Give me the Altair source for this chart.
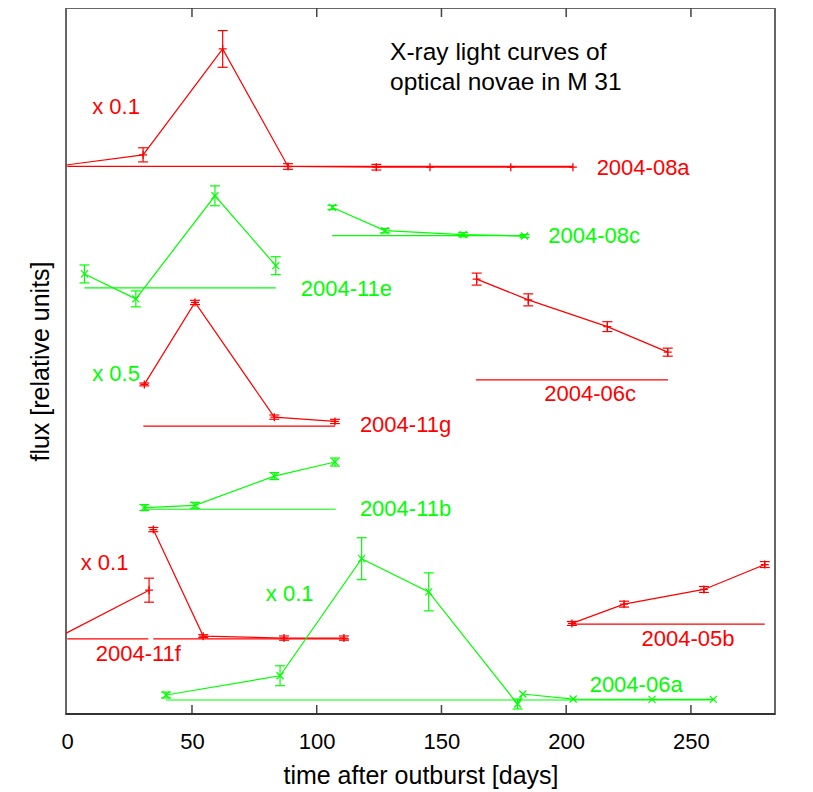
import altair as alt
import pandas as pd

RED = "#ff0000"
GREEN = "#00ff00"

# x = days after outburst, y = flux (relative units, curves offset), e = error
n08a_x = [-4, 30.4, 62.3, 88.5, 123.9, 145.4, 177.8, 202.7]
n08a_y = [77.6, 79.2, 94.2, 77.55, 77.45, 77.45, 77.45, 77.45]
n08a_e = [0, 1.0, 2.6, 0.4, 0.4, 0, 0, 0]

n08c_x = [106.3, 127.3, 158.7, 183.3]
n08c_y = [71.75, 68.46, 67.9, 67.7]
n08c_e = [0.3, 0.3, 0.3, 0.2]

n11e_x = [6.9, 27.5, 59.2, 83.6]
n11e_y = [62.33, 58.8, 73.4, 63.5]
n11e_e = [1.27, 1.13, 1.41, 1.27]

n11g_x = [30.9, 51.2, 83.0, 107.3]
n11g_y = [46.68, 58.3, 42.05, 41.44]
n11g_e = [0.2, 0.3, 0.3, 0.3]

n06c_x = [164.1, 184.8, 216.5, 240.7]
n06c_y = [61.6, 58.66, 54.87, 51.25]
n06c_e = [0.85, 0.85, 0.7, 0.57]

n11b_x = [30.9, 51.2, 83.0, 107.3]
n11b_y = [29.24, 29.56, 33.7, 35.69]
n11b_e = [0.42, 0.42, 0.5, 0.57]

n11fs_x = [-4, 32.8]
n11fs_y = [10.8, 17.54]
n11fs_e = [0, 1.7]

n11f_x = [34.5, 54.5, 86.9, 110.9]
n11f_y = [26.12, 11.03, 10.75, 10.75]
n11f_e = [0.3, 0.2, 0.3, 0.3]

n06a_x = [39.6, 85.3, 118.0, 144.9, 180.5, 182.6, 202.8, 234.4, 259.0]
n06a_y = [2.69, 5.42, 22.0, 17.3, 1.41, 2.83, 2.12, 2.08, 2.08]
n06a_e = [0.42, 1.41, 2.97, 2.69, 0.7, 0, 0, 0, 0]

n05b_x = [202.3, 223.2, 255.2, 279.6]
n05b_y = [12.83, 15.56, 17.64, 21.17]
n05b_e = [0.28, 0.42, 0.42, 0.42]

# zero-level lines of each curve
base_x1 = [0, 106.2, 6.9, 30.5, 163.8, 30.7, 0, 34.5, 39.6, 202.3]
base_x2 = [202.7, 183.3, 83.6, 107.3, 240.8, 107.6, 32.5, 112.9, 259.0, 279.6]
base_y = [77.58, 67.75, 60.35, 40.78, 47.34, 29.0, 10.65, 10.65, 1.98, 12.73]
base_c = [RED, GREEN, GREEN, RED, RED, GREEN, RED, RED, GREEN, RED]

# text annotations
lab_text = ["X-ray light curves of", "optical novae in M 31", "2004-08a", "2004-08c",
            "2004-11e", "x 0.1", "x 0.5", "2004-06c", "2004-11g", "2004-11b",
            "x 0.1", "x 0.1", "2004-11f", "2004-05b", "2004-06a"]
lab_x = [129.4, 129.4, 212.2, 192.8, 93.6, 10.0, 10.0, 191.2, 117.3, 117.3,
         5.4, 79.6, 11.4, 230.2, 209.4]
lab_y = [93.6, 89.4, 77.4, 67.7, 60.2, 86.0, 48.2, 45.3, 40.9, 29.0,
         21.4, 17.0, 8.5, 10.6, 4.1]
lab_c = ["#000000", "#000000", RED, GREEN, GREEN, RED, GREEN, RED, RED, GREEN,
         RED, GREEN, RED, RED, GREEN]
lab_s = [24.5, 24.5] + [22] * 13

tick_vals = [50, 100, 150, 200, 250]

series = [
    ("08a", RED, "plus", n08a_x, n08a_y, n08a_e),
    ("08c", GREEN, "cross", n08c_x, n08c_y, n08c_e),
    ("11e", GREEN, "cross", n11e_x, n11e_y, n11e_e),
    ("11g", RED, "plus", n11g_x, n11g_y, n11g_e),
    ("06c", RED, "plus", n06c_x, n06c_y, n06c_e),
    ("11b", GREEN, "cross", n11b_x, n11b_y, n11b_e),
    ("11fs", RED, "plus", n11fs_x, n11fs_y, n11fs_e),
    ("11f", RED, "plus", n11f_x, n11f_y, n11f_e),
    ("06a", GREEN, "cross", n06a_x, n06a_y, n06a_e),
    ("05b", RED, "plus", n05b_x, n05b_y, n05b_e),
]

rows = []
for name, col, mk, xs, ys, es in series:
    for i, (x, y, e) in enumerate(zip(xs, ys, es)):
        rows.append(dict(seg=name, color=col, marker=mk, order=i, x=x, y=y, e=e,
                         lo=y - e, hi=y + e))
pts = pd.DataFrame(rows)
errs = pts[pts.e > 0]
caps = pd.concat([errs.assign(yc=errs.lo), errs.assign(yc=errs.hi)])

base = pd.DataFrame(dict(x=base_x1, x2=base_x2, y=base_y, color=base_c))
labels = pd.DataFrame(dict(text=lab_text, x=lab_x, y=lab_y, color=lab_c, size=lab_s))
ticks = pd.DataFrame(dict(x=tick_vals))

FONT = "Liberation Sans"
xscale = alt.Scale(domain=[-0.5, 283.7], nice=False, zero=False)
yscale = alt.Scale(domain=[0, 100], nice=False, zero=False)
xaxis = alt.Axis(values=[0, 50, 100, 150, 200, 250], ticks=False, domain=False, grid=False,
                 labelFlush=False, labelFontSize=22, labelFont=FONT, labelColor="#000",
                 labelPadding=17, titleFontSize=25, titleFont=FONT, titleColor="#000",
                 titleFontWeight="normal", titlePadding=11)
yaxis = alt.Axis(labels=False, ticks=False, domain=False, grid=False, minExtent=0,
                 titleFontSize=25, titleFont=FONT, titleColor="#000",
                 titleFontWeight="normal", titlePadding=13)
XT = "time after outburst [days]"
YT = "flux [relative units]"


def X(f):
    return alt.X(f, type="quantitative", scale=xscale, axis=xaxis, title=XT)


def Y(f):
    return alt.Y(f, type="quantitative", scale=yscale, axis=yaxis, title=YT)


col = alt.Color("color:N", scale=None)

base_layer = alt.Chart(base).mark_rule(strokeWidth=1.2, clip=True).encode(
    x=X("x"), x2="x2", y=Y("y"), color=col)

line_layer = alt.Chart(pts).mark_line(strokeWidth=1.2, clip=True).encode(
    x=X("x"), y=Y("y"), color=col, detail="seg:N", order="order:Q")

err_layer = alt.Chart(errs).mark_rule(strokeWidth=1.2, clip=True).encode(
    x=X("x"), y=Y("lo"), y2="hi", color=col)

cap_layer = alt.Chart(caps).mark_point(shape="M-1,0L1,0", size=100, filled=False,
                                       strokeWidth=1.2, opacity=1, clip=True).encode(
    x=X("x"), y=Y("yc"), color=col)

plus_layer = alt.Chart(pts[pts.marker == "plus"]).mark_point(
    shape="M-1,0L1,0M0,-1L0,1", size=64, filled=False, strokeWidth=1.3, opacity=1,
    clip=True).encode(x=X("x"), y=Y("y"), color=col)

cross_layer = alt.Chart(pts[pts.marker == "cross"]).mark_point(
    shape="M-1,-1L1,1M-1,1L1,-1", size=49, filled=False, strokeWidth=1.2, opacity=1,
    clip=True).encode(x=X("x"), y=Y("y"), color=col)

text_layer = alt.Chart(labels).mark_text(align="left", baseline="middle", font=FONT).encode(
    x=X("x"), y=Y("y"), text="text:N", color=col, size=alt.Size("size:Q", scale=None))

tick_bot = alt.Chart(ticks).mark_rule(color="#444", strokeWidth=1.5).encode(
    x=X("x"), y=alt.value(706), y2=alt.value(697))
tick_top = alt.Chart(ticks).mark_rule(color="#444", strokeWidth=1.5).encode(
    x=X("x"), y=alt.value(0), y2=alt.value(9))
bottom_frame = alt.Chart(ticks).mark_rule(color="#333", strokeWidth=2).encode(
    x=alt.value(0), x2=alt.value(709), y=alt.value(706))

chart = alt.layer(base_layer, line_layer, err_layer, cap_layer, plus_layer, cross_layer,
                  text_layer, tick_bot, tick_top, bottom_frame).properties(
    width=709, height=706,
    autosize=alt.AutoSizeParams(type="none"),
    padding={"left": 58, "top": 0, "right": 30, "bottom": 76},
    background="#ffffff",
).configure_view(stroke="#666666", strokeWidth=2)

chart.save("out.html", embed_options={"renderer": "svg", "actions": False})
